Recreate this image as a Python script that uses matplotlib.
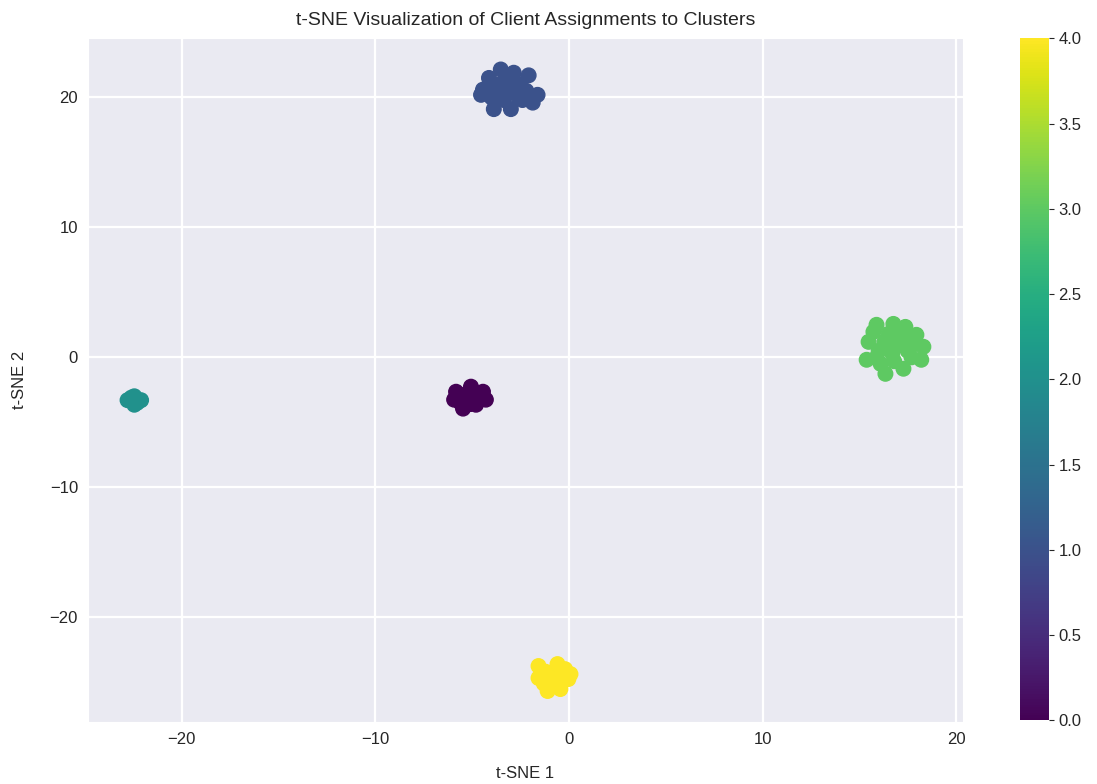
import numpy as np
import matplotlib
matplotlib.use('Agg')
import matplotlib.pyplot as plt
import seaborn as sns

sns.set_style('darkgrid')
plt.rcParams['font.family'] = ['Liberation Sans', 'DejaVu Sans']
plt.rcParams['grid.linewidth'] = 1.6

# t-SNE coordinates, one list per cluster
c0_x = [-5.06, -4.44, -4.29, -5.83, -5.93, -5.47, -4.80, -5.21, -5.40, -4.90, -5.60,
        -4.60, -5.10]
c0_y = [-2.26, -2.65, -3.26, -2.65, -3.26, -3.95, -3.65, -3.19, -2.90, -3.00, -3.50,
        -3.00, -3.60]

c1_x = [-3.52, -2.85, -2.08, -4.13, -4.44, -4.54, -1.62, -1.87, -3.88, -3.00, -3.36,
        -3.80, -3.00, -2.50, -3.30, -2.60, -4.00, -3.50, -2.20, -2.90, -3.60, -2.40]
c1_y = [22.15, 21.90, 21.70, 21.50, 20.60, 20.20, 20.20, 19.60, 19.10, 19.10, 19.80,
        20.80, 20.60, 21.00, 21.30, 20.00, 20.00, 20.30, 20.50, 21.50, 21.00, 19.80]

c2_x = [-22.80, -22.10, -22.45, -22.45, -22.60, -22.30, -22.50]
c2_y = [-3.30, -3.30, -3.00, -3.65, -3.10, -3.50, -3.35]

c3_x = [15.89, 16.76, 17.38, 17.95, 18.31, 18.20, 17.28, 16.35, 15.38, 15.48, 15.73,
        16.30, 17.00, 16.70, 17.50, 16.00, 17.30, 16.50, 17.70, 16.80, 16.10, 17.00,
        17.80, 15.90]
c3_y = [2.50, 2.57, 2.34, 1.73, 0.81, -0.19, -0.88, -1.27, -0.19, 1.19, 1.96,
        1.20, 1.00, 0.30, 0.50, 0.50, 1.60, 1.80, 0.00, -0.30, -0.50, 2.00,
        1.00, 0.00]

c4_x = [-1.57, -0.59, 0.08, -0.03, -0.44, -1.10, -1.57, -0.85, -1.20, -0.40, -0.80,
        -1.30, -0.20]
c4_y = [-23.76, -23.61, -24.38, -24.76, -25.53, -25.68, -24.68, -24.68, -24.20, -24.30, -25.10,
        -25.10, -24.00]

xs = [c0_x, c1_x, c2_x, c3_x, c4_x]
ys = [c0_y, c1_y, c2_y, c3_y, c4_y]

tsne_x = np.concatenate(xs)
tsne_y = np.concatenate(ys)
labels = np.concatenate([[k] * len(x) for k, x in enumerate(xs)])

fig = plt.figure(figsize=(10.97, 7.84), dpi=100)
ax = fig.add_axes([0.080, 0.079, 0.798, 0.872])
cax = fig.add_axes([0.930, 0.081, 0.026, 0.870])

sc = ax.scatter(tsne_x, tsne_y, c=labels, cmap='viridis', s=110, vmin=0, vmax=4)
cb = fig.colorbar(sc, cax=cax)
cb.ax.tick_params(labelsize=12)
cb.outline.set_visible(False)
ax.set_title('t-SNE Visualization of Client Assignments to Clusters', fontsize=14, pad=10)
ax.set_xlabel('t-SNE 1', fontsize=12, labelpad=14)
ax.set_ylabel('t-SNE 2', fontsize=12, labelpad=16)
ax.tick_params(labelsize=12)
plt.savefig('out.png', dpi=100)
